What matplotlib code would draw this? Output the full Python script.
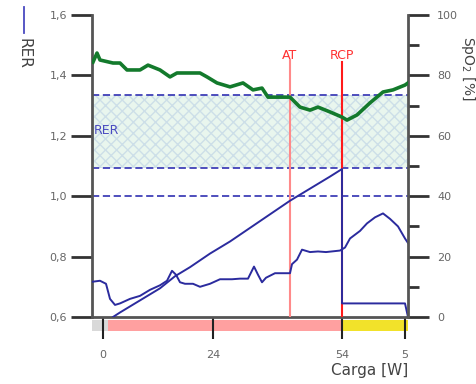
import matplotlib
matplotlib.use("Agg")
import matplotlib.pyplot as plt
from matplotlib.ticker import FuncFormatter, MultipleLocator

# x positions are in test time units, tick labels show the load steps
tick_pos = [0, 110, 239, 302]
tick_labels = ["0", "24", "54", "5"]

# RER (left axis)
rer_t = [-10, -3, 3, 7, 12, 17, 27, 37, 47, 57, 64, 69, 73, 77, 82, 90, 97, 107,
         117, 129, 137, 145, 151, 155, 159, 163, 172, 182, 187, 189, 194, 199, 207,
         215, 223, 237, 242, 247, 257, 264, 272, 280, 287, 295, 302, 305]
rer_v = [0.717, 0.72, 0.71, 0.66, 0.64, 0.645, 0.66, 0.67, 0.69, 0.705, 0.72, 0.753,
         0.74, 0.715, 0.71, 0.71, 0.70, 0.71, 0.725, 0.725, 0.727, 0.727, 0.767, 0.74,
         0.715, 0.73, 0.745, 0.745, 0.745, 0.775, 0.79, 0.823, 0.815, 0.817, 0.815,
         0.82, 0.83, 0.86, 0.885, 0.91, 0.93, 0.943, 0.925, 0.90, 0.86, 0.845]

# load ramp (left axis scale)
ramp_t = [10, 17, 37, 57, 72, 87, 107, 127, 147, 167, 187, 207, 227, 239, 239, 302, 305]
ramp_v = [0.60, 0.615, 0.655, 0.695, 0.735, 0.765, 0.81, 0.85, 0.895, 0.94, 0.985,
          1.025, 1.065, 1.09, 0.645, 0.645, 0.60]

# green trace (right axis, %)
sat_t = [-10, -6, -3, 10, 17, 24, 37, 45, 57, 67, 74, 97, 104, 114, 127, 140, 150,
         159, 165, 177, 187, 197, 207, 215, 227, 239, 244, 254, 267, 280, 290, 302, 305]
sat_v = [84.4, 87.4, 85.1, 84.1, 84.1, 81.8, 81.8, 83.4, 81.8, 79.5, 80.8, 80.8, 79.5,
         77.5, 76.2, 77.5, 75.2, 75.8, 72.8, 72.8, 72.8, 69.5, 68.5, 69.5, 67.9, 66.2,
         65.2, 66.9, 70.9, 74.5, 75.2, 76.8, 77.5]

ref_levels = [1.335, 1.095, 1.0]
at_t, rcp_t = 187, 239

grey = "#555555"
blue = "#2b2b9e"

fig = plt.figure(figsize=(4.77, 3.84), dpi=100)
ax = fig.add_axes([92 / 477, 1 - 317 / 384, 316 / 477, 302 / 384])
ax2 = ax.twinx()

ax.set_xlim(-11, 305)
ax.set_ylim(0.6, 1.6)
ax2.set_ylim(0, 100)

# shaded band between the dashed limits
ax.fill_between([-11, 305], ref_levels[1], ref_levels[0], facecolor="#e9f6ee",
                edgecolor="#cddfe8", hatch="xxx", linewidth=0, zorder=1)
for lvl in ref_levels:
    ax.axhline(lvl, color="#4040b8", lw=1.3, ls=(0, (4, 2)), zorder=2)

ax.plot(ramp_t, ramp_v, color=blue, lw=1.4, zorder=4)
ax.plot(rer_t, rer_v, color=blue, lw=1.4, zorder=4)

ax.plot([at_t, at_t], [0.6, 1.451], color="#ff8a8a", lw=1.5, zorder=3)
ax.plot([rcp_t, rcp_t], [0.6, 1.444], color="#ff1a1a", lw=1.5, zorder=3)
ax.text(at_t, 1.467, "AT", color="#ff3030", fontsize=9, ha="center", va="center")
ax.text(rcp_t, 1.467, "RCP", color="#ff3030", fontsize=9, ha="center", va="center")
ax.text(-9, 1.216, "RER", color="#4a4ac0", fontsize=9, ha="left", va="center")

ax2.plot(sat_t, sat_v, color="#137a2c", lw=2.6, zorder=5)

# colour bar under the x axis
ax.axvspan(-11, 5, ymin=-0.047, ymax=-0.01, color="#d9d9d9", clip_on=False, lw=0)
ax.axvspan(5, 239, ymin=-0.047, ymax=-0.01, color="#ffa0a0", clip_on=False, lw=0)
ax.axvspan(239, 305, ymin=-0.047, ymax=-0.01, color="#f2e22a", clip_on=False, lw=0)

comma = FuncFormatter(lambda v, p: f"{v:.1f}".replace(".", ","))
ax.yaxis.set_major_locator(MultipleLocator(0.2))
ax.yaxis.set_major_formatter(comma)
ax.set_xticks(tick_pos)
ax.set_xticklabels(tick_labels)
ax2.yaxis.set_major_locator(MultipleLocator(20))
ax2.yaxis.set_minor_locator(MultipleLocator(10))

for a in (ax, ax2):
    a.spines["top"].set_visible(False)
    for s in ("left", "right", "bottom"):
        a.spines[s].set_color(grey)
        a.spines[s].set_linewidth(2)
ax.spines["right"].set_visible(False)
ax2.spines["left"].set_visible(False)
ax2.spines["bottom"].set_visible(False)

ax.tick_params(axis="y", length=15, width=2, color="#333333", labelsize=8,
               labelcolor="#666666", pad=3)
ax.tick_params(axis="x", length=16, width=1.5, color="#222222", labelsize=8,
               labelcolor="#666666", pad=8)
ax2.tick_params(axis="y", which="major", length=15, width=2, color="#333333",
                labelsize=8, labelcolor="#666666", pad=6)
ax2.tick_params(axis="y", which="minor", length=8, width=2, color="#333333")

ax.set_xlabel("Carga [W]", fontsize=11, color="#444444", loc="right", labelpad=2)

# axis titles outside the frame
fig.text(24 / 477, 1 - 53 / 384, "RER", rotation=270, fontsize=11, color="#444444",
         ha="center", va="center")
fig.lines.append(plt.Line2D([24 / 477, 24 / 477], [1 - 7 / 384, 1 - 33 / 384],
                            transform=fig.transFigure, color="#4a4ac0", lw=1.3))
fig.text(468 / 477, 1 - 68 / 384, "SpO$_2$ [%]", rotation=270, fontsize=10,
         color="#444444", ha="center", va="center")

fig.savefig("out.png", dpi=100)
